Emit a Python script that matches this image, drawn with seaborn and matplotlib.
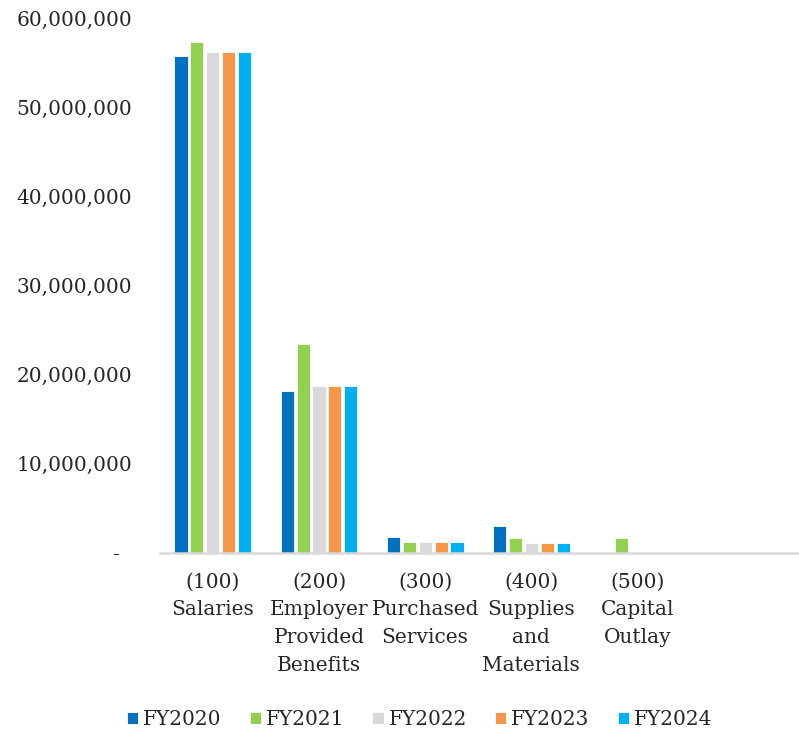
import matplotlib
matplotlib.use("Agg")
import matplotlib.pyplot as plt
from matplotlib.ticker import FuncFormatter
import seaborn as sns
import pandas as pd

categories = ["(100)\nSalaries", "(200)\nEmployer\nProvided\nBenefits",
              "(300)\nPurchased\nServices", "(400)\nSupplies\nand\nMaterials",
              "(500)\nCapital\nOutlay", ""]
years = ["FY2020", "FY2021", "FY2022", "FY2023", "FY2024"]

fy2020 = [55_800_000, 18_200_000, 1_800_000, 3_000_000, 0, 0]
fy2021 = [57_300_000, 23_400_000, 1_230_000, 1_680_000, 1_650_000, 0]
fy2022 = [56_200_000, 18_750_000, 1_230_000, 1_150_000, 0, 0]
fy2023 = [56_200_000, 18_750_000, 1_230_000, 1_150_000, 0, 0]
fy2024 = [56_200_000, 18_750_000, 1_230_000, 1_150_000, 0, 0]

colors = ["#0070C0", "#92D050", "#D9D9D9", "#F79646", "#00B0F0"]

series = [fy2020, fy2021, fy2022, fy2023, fy2024]
rows = []
for yr, vals in zip(years, series):
    for cat, v in zip(categories, vals):
        rows.append({"category": cat, "year": yr, "amount": v})
df = pd.DataFrame(rows)

sns.set_theme(style="white")
plt.rcParams["font.family"] = ["DejaVu Serif"]

fig = plt.figure(figsize=(7.99, 7.34), dpi=100)
ax = fig.add_axes([0.2, 0.2466, 0.797, 0.7284])

sns.barplot(data=df, x="category", y="amount", hue="year", order=categories,
            hue_order=years, palette=colors, saturation=1, width=0.75, gap=0.18,
            edgecolor="white", linewidth=0.6, ax=ax)

ax.set_ylim(0, 60_000_000)
ax.set_yticks(range(0, 60_000_001, 10_000_000))
ax.yaxis.set_major_formatter(FuncFormatter(lambda v, p: "-  " if v == 0 else f"{v:,.0f}"))
ax.tick_params(axis="y", labelsize=14.5, length=0, pad=20)
ax.tick_params(axis="x", labelsize=14.5, length=0, pad=14)
for lbl in ax.get_xticklabels():
    lbl.set_linespacing(1.6)
ax.set_xlim(-0.5, len(categories) - 0.5)
ax.set_xlabel("")
ax.set_ylabel("")

for side in ["top", "right", "left"]:
    ax.spines[side].set_visible(False)
ax.spines["bottom"].set_color("#D9D9D9")
ax.spines["bottom"].set_linewidth(1.8)

ax.legend(loc="upper center", bbox_to_anchor=(0.408, -0.26), ncol=5, frameon=False,
          fontsize=14.5, handlelength=0.55, handleheight=0.55, handletextpad=0.25,
          columnspacing=1.4)

fig.savefig("out.png", dpi=100)
